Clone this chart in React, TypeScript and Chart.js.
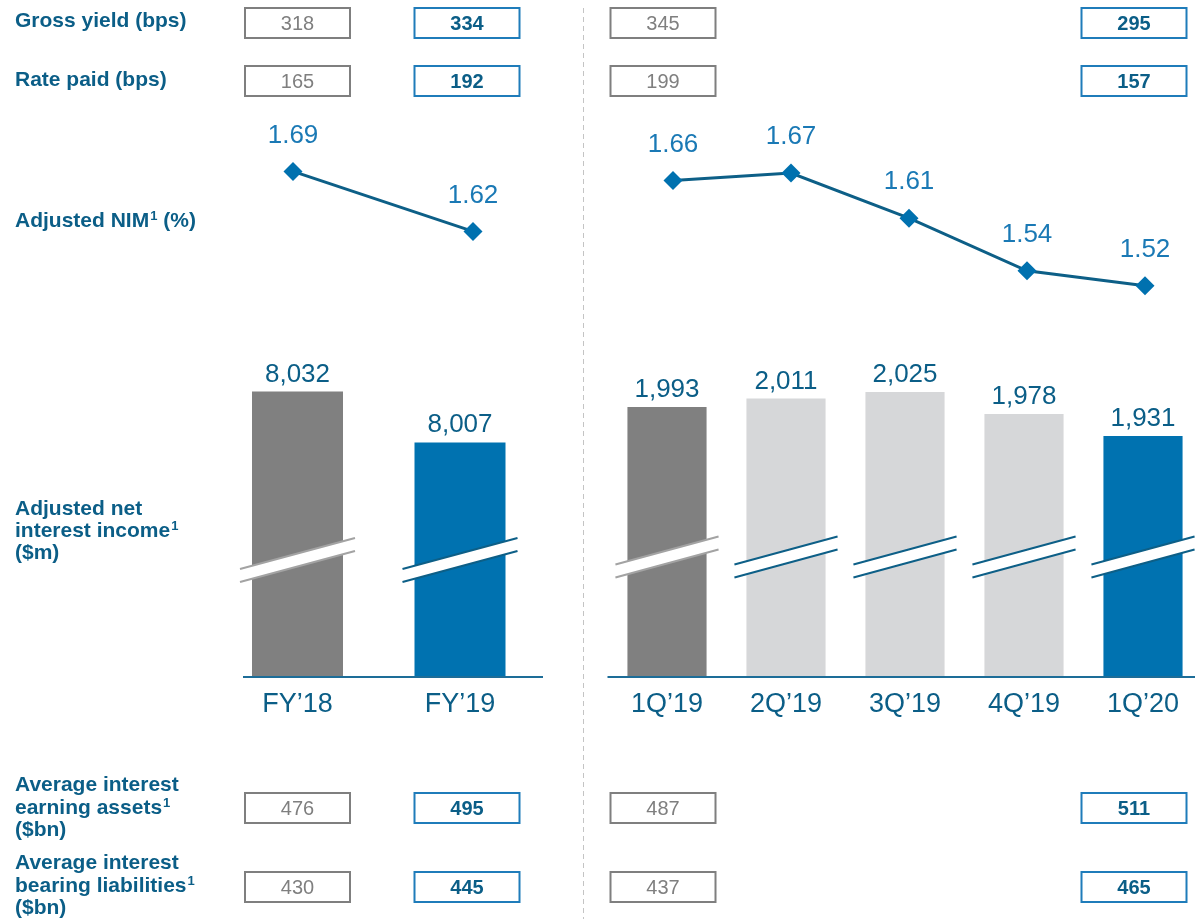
import React, { useEffect, useRef } from "react";
import { Chart, registerables } from "chart.js";

Chart.register(...registerables);

// ---------- DATA ----------
const annualLabels = ["FY\u201918", "FY\u201919"];
const annualNII = [8032, 8007];
const annualNIM = [1.69, 1.62];
const annualGrossYield: (number | null)[] = [318, 334];
const annualRatePaid: (number | null)[] = [165, 192];
const annualAIEA: (number | null)[] = [476, 495];
const annualAIBL: (number | null)[] = [430, 445];

const quarterLabels = ["1Q\u201919", "2Q\u201919", "3Q\u201919", "4Q\u201919", "1Q\u201920"];
const quarterNII = [1993, 2011, 2025, 1978, 1931];
const quarterNIM = [1.66, 1.67, 1.61, 1.54, 1.52];
const quarterGrossYield: (number | null)[] = [345, null, null, null, 295];
const quarterRatePaid: (number | null)[] = [199, null, null, null, 157];
const quarterAIEA: (number | null)[] = [487, null, null, null, 511];
const quarterAIBL: (number | null)[] = [437, null, null, null, 465];

const rowLabelLines = [
  { text: "Gross yield (bps)", y: 21 },
  { text: "Rate paid (bps)", y: 80 },
  { text: "Adjusted NIM\u00b9 (%)", y: 221 },
  { text: "Adjusted net", y: 509 },
  { text: "interest income\u00b9", y: 531 },
  { text: "($m)", y: 553 },
  { text: "Average interest", y: 785 },
  { text: "earning assets\u00b9", y: 808 },
  { text: "($bn)", y: 830 },
  { text: "Average interest", y: 863 },
  { text: "bearing liabilities\u00b9", y: 886 },
  { text: "($bn)", y: 908 },
];

// ---------- STYLE ----------
const FONT = '"Liberation Sans", Arial, Helvetica, sans-serif';
const DARK_BLUE = "#0b5e87";
const NIM_BLUE = "#1a79b5";
const LINE_COLOR = "#0d5f87";
const MARKER_COLOR = "#0071af";
const GRAY = "#808080";
const LIGHT = "#d6d7d9";
const BLUE = "#0072b0";
const BOX_GRAY = "#7f7f7f";
const BOX_BLUE = "#1f7cba";
const AXIS = "#1d6d98";

const BOX_ROW_TOPS = [8, 66, 793, 872];
const BOX_W = 105;
const BOX_H = 30;

type PanelCfg = {
  left: number;
  width: number;
  height: number;
  padding: { left: number; right: number; top: number; bottom: number };
  labels: string[];
  nii: number[];
  nim: number[];
  boxes: (number | null)[][];
  boxDx: number[];
  barColors: string[];
  breakColors: string[];
  barPct: number;
  yBar: [number, number];
  yLine: [number, number];
  xLine: [number, number];
  axisExt: [number, number];
  breakY: number;
  rowLabels: boolean;
};

function drawRich(ctx: CanvasRenderingContext2D, text: string, x: number, y: number) {
  const parts = text.split("\u00b9");
  let cx = x;
  parts.forEach((p, i) => {
    ctx.font = `bold 21px ${FONT}`;
    ctx.textBaseline = "middle";
    ctx.fillText(p, cx, y);
    cx += ctx.measureText(p).width;
    if (i < parts.length - 1) {
      ctx.font = `bold 13px ${FONT}`;
      ctx.fillText("1", cx + 1, y - 5);
      cx += ctx.measureText("1").width + 1;
    }
  });
}

function makePlugin(cfg: PanelCfg) {
  return {
    id: "decor",
    afterDatasetsDraw(chart: any) {
      const ctx: CanvasRenderingContext2D = chart.ctx;
      const area = chart.chartArea;
      const bars = chart.getDatasetMeta(0).data;
      const pts = chart.getDatasetMeta(1).data;
      ctx.save();

      // axis breaks
      const slope = 0.27;
      const gap = 13;
      bars.forEach((b: any, i: number) => {
        const hw = b.width / 2 + 12;
        const cx = b.x;
        const cy = cfg.breakY;
        const x1 = cx - hw;
        const x2 = cx + hw;
        const u1 = cy + hw * slope - gap / 2;
        const u2 = cy - hw * slope - gap / 2;
        ctx.beginPath();
        ctx.moveTo(x1, u1);
        ctx.lineTo(x2, u2);
        ctx.lineTo(x2, u2 + gap);
        ctx.lineTo(x1, u1 + gap);
        ctx.closePath();
        ctx.fillStyle = "#ffffff";
        ctx.fill();
        ctx.strokeStyle = cfg.breakColors[i];
        ctx.lineWidth = 2;
        ctx.beginPath();
        ctx.moveTo(x1, u1);
        ctx.lineTo(x2, u2);
        ctx.moveTo(x1, u1 + gap);
        ctx.lineTo(x2, u2 + gap);
        ctx.stroke();
      });

      // axis line
      ctx.strokeStyle = AXIS;
      ctx.lineWidth = 2;
      ctx.beginPath();
      ctx.moveTo(area.left + cfg.axisExt[0], area.bottom);
      ctx.lineTo(area.right + cfg.axisExt[1], area.bottom);
      ctx.stroke();

      // bar values
      ctx.textAlign = "center";
      ctx.fillStyle = DARK_BLUE;
      ctx.font = `26px ${FONT}`;
      ctx.textBaseline = "alphabetic";
      bars.forEach((b: any, i: number) => {
        ctx.fillText(cfg.nii[i].toLocaleString("en-US"), b.x, b.y - 10);
      });

      // category labels
      ctx.font = `27px ${FONT}`;
      ctx.textBaseline = "middle";
      bars.forEach((b: any, i: number) => {
        ctx.fillText(cfg.labels[i], b.x, area.bottom + 28);
      });

      // NIM labels
      ctx.fillStyle = NIM_BLUE;
      ctx.font = `26px ${FONT}`;
      ctx.textBaseline = "middle";
      pts.forEach((p: any, i: number) => {
        ctx.fillText(cfg.nim[i].toFixed(2), p.x, p.y - 36);
      });

      // boxes
      const last = cfg.labels.length - 1;
      cfg.boxes.forEach((row, r) => {
        row.forEach((v, i) => {
          if (v === null || v === undefined) return;
          const current = i === last;
          const cx = bars[i].x + (cfg.boxDx[i] || 0);
          const top = BOX_ROW_TOPS[r];
          ctx.lineWidth = 2;
          ctx.strokeStyle = current ? BOX_BLUE : BOX_GRAY;
          ctx.strokeRect(cx - BOX_W / 2, top, BOX_W, BOX_H);
          ctx.fillStyle = current ? DARK_BLUE : BOX_GRAY;
          ctx.font = `${current ? "bold " : ""}20px ${FONT}`;
          ctx.textAlign = "center";
          ctx.textBaseline = "middle";
          ctx.fillText(String(v), cx, top + BOX_H / 2 + 1);
        });
      });

      if (cfg.rowLabels) {
        ctx.fillStyle = DARK_BLUE;
        ctx.textAlign = "left";
        rowLabelLines.forEach((l) => drawRich(ctx, l.text, 15, l.y));
        // dashed separator
        ctx.strokeStyle = "#c4c4c4";
        ctx.lineWidth = 1;
        ctx.setLineDash([5, 4]);
        ctx.beginPath();
        ctx.moveTo(583.5, 8);
        ctx.lineTo(583.5, 919);
        ctx.stroke();
        ctx.setLineDash([]);
      }
      ctx.restore();
    },
  };
}

function Panel({ cfg }: { cfg: PanelCfg }) {
  const ref = useRef<HTMLCanvasElement | null>(null);
  useEffect(() => {
    if (!ref.current) return;
    const chart = new Chart(ref.current, {
      type: "bar",
      data: {
        labels: cfg.labels,
        datasets: [
          {
            type: "bar",
            data: cfg.nii,
            backgroundColor: cfg.barColors,
            borderWidth: 0,
            xAxisID: "x",
            yAxisID: "y",
            grouped: false,
            categoryPercentage: 1,
            barPercentage: cfg.barPct,
            order: 2,
          } as any,
          {
            type: "line",
            data: cfg.nim.map((v, i) => ({ x: i, y: v })),
            xAxisID: "xl",
            yAxisID: "y2",
            borderColor: LINE_COLOR,
            borderWidth: 3,
            tension: 0,
            pointStyle: "rectRot",
            pointRadius: 9.5,
            pointBackgroundColor: MARKER_COLOR,
            pointBorderColor: MARKER_COLOR,
            pointBorderWidth: 0,
            order: 1,
          } as any,
        ],
      },
      options: {
        responsive: false,
        animation: false,
        devicePixelRatio: 1,
        layout: { padding: cfg.padding, autoPadding: false },
        plugins: { legend: { display: false }, tooltip: { enabled: false } },
        scales: {
          x: { type: "category", display: false, offset: true },
          xl: { type: "linear", display: false, offset: false, min: cfg.xLine[0], max: cfg.xLine[1] },
          y: { display: false, min: cfg.yBar[0], max: cfg.yBar[1] },
          y2: { display: false, min: cfg.yLine[0], max: cfg.yLine[1] },
        },
      } as any,
      plugins: [makePlugin(cfg)],
    });
    return () => chart.destroy();
  }, [cfg]);
  return (
    <canvas
      ref={ref}
      width={cfg.width}
      height={cfg.height}
      style={{ position: "absolute", left: cfg.left, top: 0, width: cfg.width, height: cfg.height }}
    />
  );
}

const annualCfg: PanelCfg = {
  left: 0,
  width: 590,
  height: 919,
  padding: { left: 216.25, right: 48.75, top: 0, bottom: 242 },
  labels: annualLabels,
  nii: annualNII,
  nim: annualNIM,
  boxes: [annualGrossYield, annualRatePaid, annualAIEA, annualAIBL],
  boxDx: [0, 7],
  barColors: [GRAY, BLUE],
  breakColors: ["#a3a3a3", LINE_COLOR],
  barPct: 0.56,
  yBar: [7892, 8224],
  yLine: [1.1, 1.89],
  xLine: [-0.4264, 1.3792],
  axisExt: [26.75, 1.75],
  breakY: 560,
  rowLabels: true,
};

const quarterCfg: PanelCfg = {
  left: 590,
  width: 620,
  height: 919,
  padding: { left: 17.5, right: 7.5, top: 0, bottom: 242 },
  labels: quarterLabels,
  nii: quarterNII,
  nim: quarterNIM,
  boxes: [quarterGrossYield, quarterRatePaid, quarterAIEA, quarterAIBL],
  boxDx: [-4, 0, 0, 0, -9],
  barColors: [GRAY, LIGHT, LIGHT, LIGHT, BLUE],
  breakColors: ["#a3a3a3", LINE_COLOR, LINE_COLOR, LINE_COLOR, LINE_COLOR],
  barPct: 0.665,
  yBar: [1416, 2863],
  yLine: [1.0, 1.9],
  xLine: [-0.555, 4.487],
  axisExt: [0, -7.5],
  breakY: 557,
  rowLabels: false,
};

export default function App() {
  return (
    <div
      style={{
        position: "fixed",
        left: 0,
        top: 0,
        width: 1197,
        height: 919,
        overflow: "hidden",
        background: "#ffffff",
      }}
    >
      <Panel cfg={annualCfg} />
      <Panel cfg={quarterCfg} />
    </div>
  );
}
